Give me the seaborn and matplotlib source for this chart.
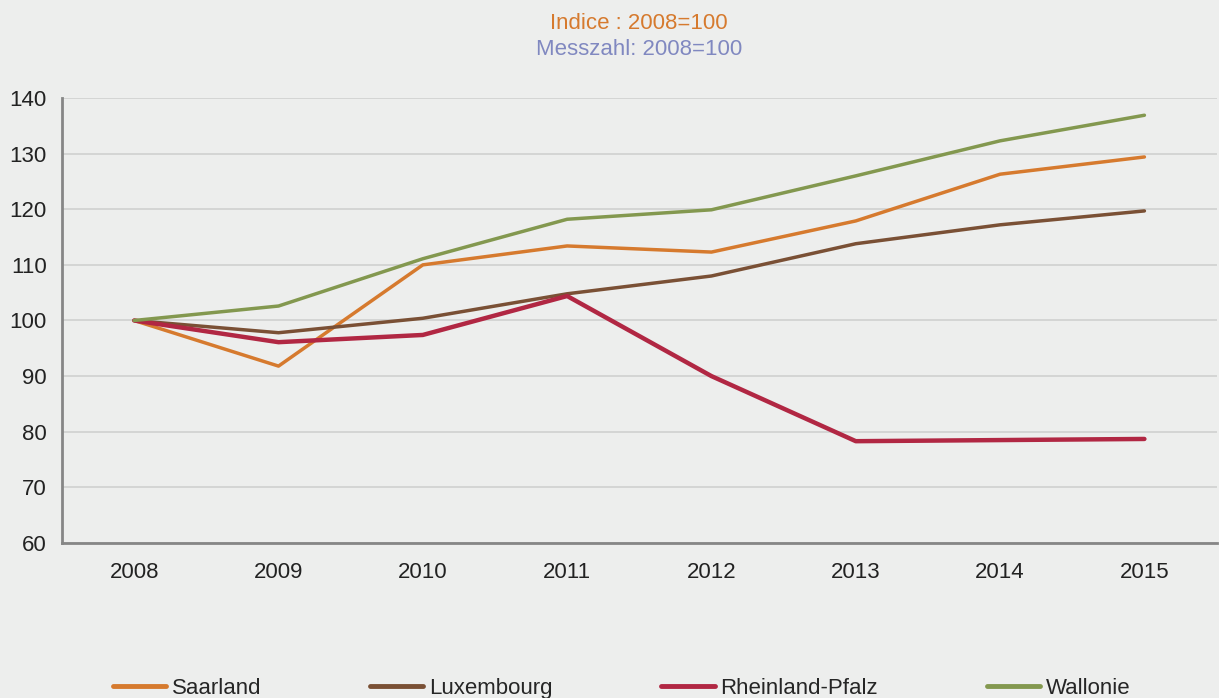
import pandas as pd
import matplotlib.pyplot as plt
import seaborn as sns

# index values, 2008 = 100
years = ['2008', '2009', '2010', '2011', '2012', '2013', '2014', '2015']
saarland = [100, 91.8, 110.0, 113.4, 112.3, 117.9, 126.3, 129.4]
luxembourg = [100, 97.8, 100.4, 104.8, 108.0, 113.8, 117.2, 119.7]
rheinland_pfalz = [100, 96.1, 97.4, 104.4, 90.0, 78.3, 78.5, 78.7]
wallonie = [100, 102.6, 111.1, 118.2, 119.9, 126.0, 132.3, 136.9]

series = {
    'Saarland': saarland,
    'Luxembourg': luxembourg,
    'Rheinland-Pfalz': rheinland_pfalz,
    'Wallonie': wallonie,
}
colors = {
    'Saarland': '#D67A2E',
    'Luxembourg': '#7A5035',
    'Rheinland-Pfalz': '#B12743',
    'Wallonie': '#83984F',
}
widths = {'Saarland': 2.5, 'Luxembourg': 2.5, 'Rheinland-Pfalz': 3.2, 'Wallonie': 2.5}

bg = '#EDEEED'
sns.set_style('white')
plt.rcParams['font.family'] = ['Liberation Sans', 'DejaVu Sans']

fig = plt.figure(figsize=(12.19, 6.98), dpi=100, facecolor=bg)
ax = fig.add_axes([0.0509, 0.2221, 0.9471, 0.6375])
ax.set_facecolor(bg)

rows = []
for name, vals in series.items():
    for y, v in zip(years, vals):
        rows.append({'year': y, 'value': v, 'region': name})
df = pd.DataFrame(rows)

for name in series:
    sns.lineplot(data=df[df['region'] == name], x='year', y='value', ax=ax,
                 color=colors[name], linewidth=widths[name], label=name,
                 solid_capstyle='round')

ax.set_xlim(-0.5, 7.5)
ax.set_ylim(60, 140)
ax.set_yticks(range(60, 141, 10))
ax.set_xticks(range(len(years)))
ax.set_xticklabels(years)
ax.set_xticks([i - 0.5 for i in range(len(years) + 1)], minor=True)
ax.tick_params(axis='x', which='major', length=0, pad=14, labelsize=16, colors='#222222')
ax.tick_params(axis='x', which='minor', length=6, width=1.5, color='#868686')
ax.tick_params(axis='y', length=5, width=1.5, color='#868686', labelsize=16,
               labelcolor='#222222', pad=6)
ax.grid(axis='y', color='#D0D0D0', linewidth=1.2)
ax.set_axisbelow(True)
ax.set_xlabel('')
ax.set_ylabel('')
for side in ['top', 'right']:
    ax.spines[side].set_visible(False)
for side in ['left', 'bottom']:
    ax.spines[side].set_color('#868686')
    ax.spines[side].set_linewidth(2)

leg = ax.legend(loc='lower center', bbox_to_anchor=(0.5098, -0.0135), bbox_transform=fig.transFigure,
                ncol=4, frameon=False, fontsize=16, handlelength=2.4, handletextpad=0.25,
                columnspacing=4.9, borderaxespad=0)
for line in leg.get_lines():
    line.set_linewidth(3.5)

fig.text(0.524, 0.966, 'Indice : 2008=100', ha='center', va='center', fontsize=16, color='#D67A2E')
fig.text(0.524, 0.929, 'Messzahl: 2008=100', ha='center', va='center', fontsize=16, color='#8088C0')

fig.savefig('out.png', dpi=100, facecolor=bg)
